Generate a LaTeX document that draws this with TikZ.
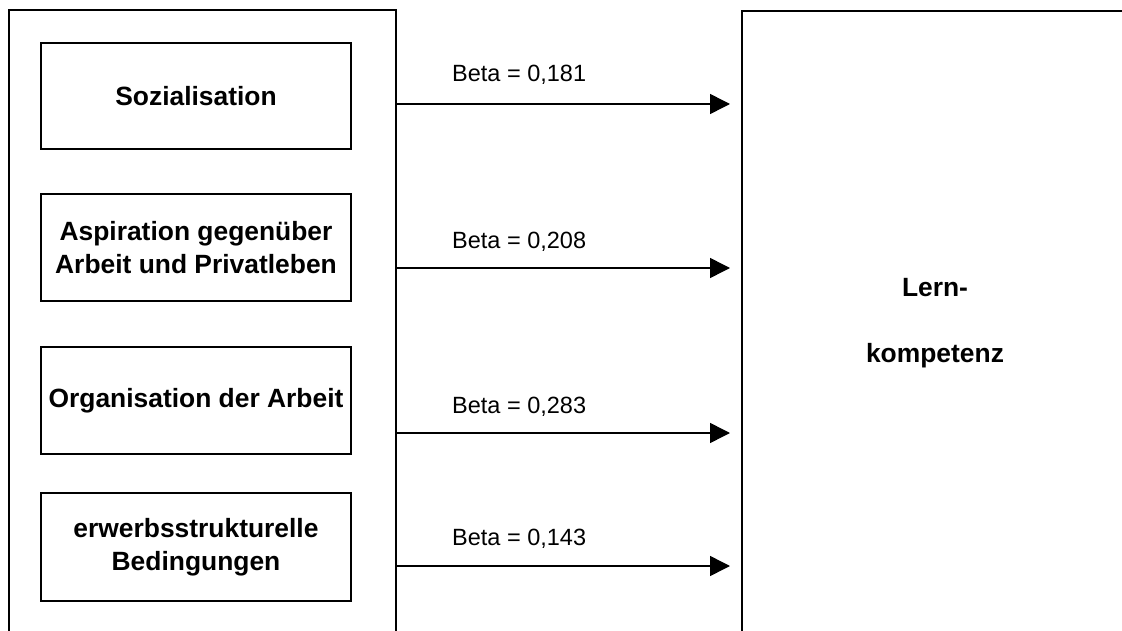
\documentclass[tikz,border=0pt]{standalone}
\usepackage{fontspec}
\setmainfont{Liberation Sans}
\usetikzlibrary{arrows.meta}
\begin{document}
\begin{tikzpicture}[x=1pt,y=-1pt,
  frame/.style={draw,line width=1.6pt,anchor=north west,inner sep=0pt},
  factor/.style={draw,line width=1.6pt,minimum width=310pt,minimum height=106pt,inner sep=0pt,
    align=center,font=\fontsize{26.4}{33}\selectfont\bfseries},
  beta/.style={anchor=base west,inner sep=0pt,font=\fontsize{23.5}{28}\selectfont},
  effect/.style={line width=1.5pt,-{Triangle[length=20pt,width=20pt]},shorten >=11pt}
]
\useasboundingbox (0,0) rectangle (1122,631);
\clip (0,0) rectangle (1122,631);
\fill[white] (0,0) rectangle (1122,631);
% big frames
\node[frame,minimum width=387pt,minimum height=660pt] (L) at (8,9) {};
\node[frame,minimum width=420pt,minimum height=660pt] (R) at (741,10) {};
% factor boxes
\node[factor] (f1) at (196,96) {Sozialisation};
\node[factor,minimum height=107pt] (f2) at (196,247.5) {Aspiration gegenüber\\Arbeit und Privatleben};
\node[factor,minimum height=107pt] (f3) at (196,400.5) {Organisation der Arbeit};
\node[factor,minimum height=108pt] (f4) at (196,547) {erwerbsstrukturelle\\Bedingungen};
% target text
\node[align=center,inner sep=0pt,font=\fontsize{26.4}{33}\selectfont\bfseries] (lk) at (935,323) {Lern-\\[33pt]kompetenz};
% arrow start points
\coordinate (s1) at (397,104);
\coordinate (s2) at (396,268);
\coordinate (s3) at (395,433);
\coordinate (s4) at (395,566);
\draw[effect] (s1) -- (R.west |- s1);
\draw[effect] (s2) -- (R.west |- s2);
\draw[effect] (s3) -- (R.west |- s3);
\draw[effect] (s4) -- (R.west |- s4);
% labels
\node[beta] (b1) at (452,82) {Beta = 0,181};
\node[beta] (b2) at (452,248) {Beta = 0,208};
\node[beta] (b3) at (452,413) {Beta = 0,283};
\node[beta] (b4) at (452,545) {Beta = 0,143};
\end{tikzpicture}
\end{document}
